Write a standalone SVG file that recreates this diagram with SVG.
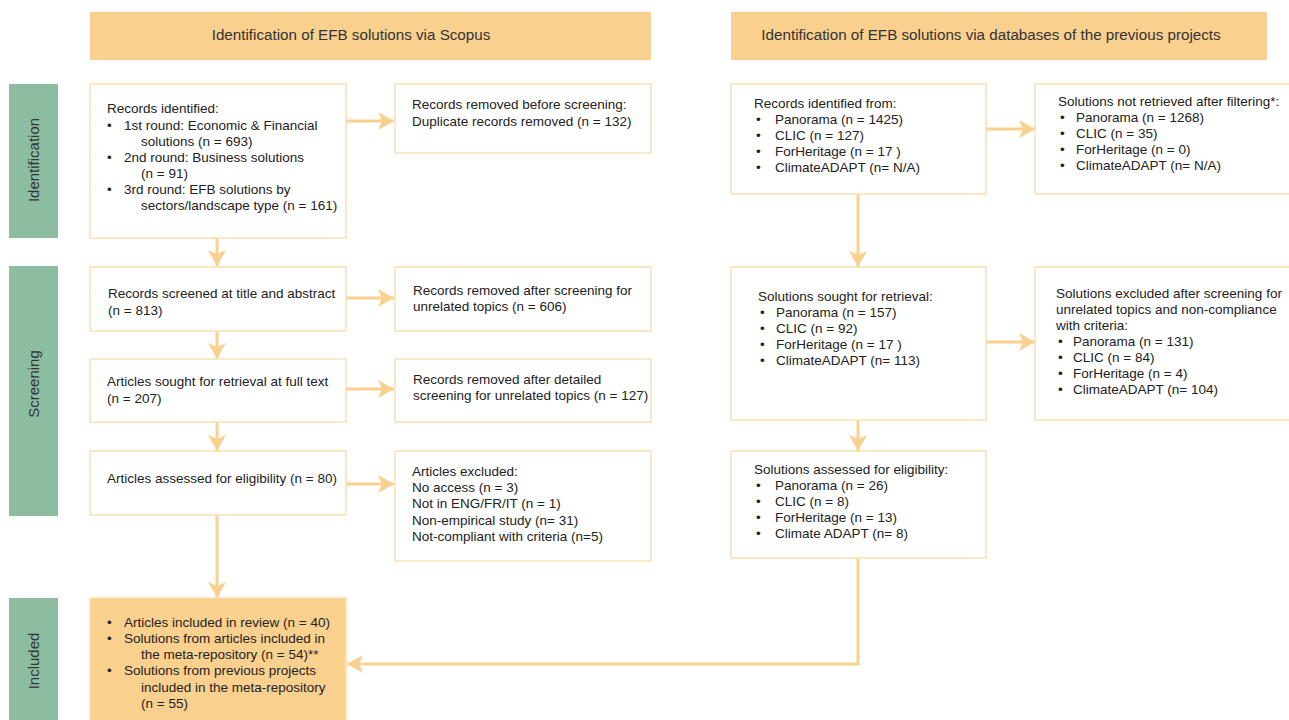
<svg xmlns="http://www.w3.org/2000/svg" width="1289" height="720" viewBox="0 0 1289 720">
<defs>
<style>
text{font-family:"Liberation Sans",Arial,sans-serif;font-size:13.5px;fill:#222}
.hdr{fill:#FAD08F}
.hdrt{font-size:15.2px;fill:#333}
.side{fill:#8CBDA1}
.sidet{font-size:15px;fill:#333}
.box{fill:#fff;stroke:#FCE0B2;stroke-width:1.5}
.inc{fill:#FAD08F;stroke:#FCE0B2;stroke-width:1.5}
.con{fill:none;stroke:#FAD08F;stroke-width:3}
</style>
<marker id="ah" markerUnits="userSpaceOnUse" markerWidth="18" markerHeight="20" viewBox="0 0 18 20" refX="16" refY="10" orient="auto">
<path d="M0,1 L16,10 L0,19 L4,10 Z" fill="#FAD08F"/>
</marker>
</defs>
<rect width="1289" height="720" fill="#fff"/>

<g id="header-scopus"><rect class="hdr" x="90" y="12" width="561" height="48"/><text class="hdrt" x="351" y="40" text-anchor="middle">Identification of EFB solutions via Scopus</text></g>
<g id="header-previous"><rect class="hdr" x="731" y="12" width="536" height="48"/><text class="hdrt" x="991" y="40" text-anchor="middle">Identification of EFB solutions via databases of the previous projects</text></g>

<g id="side-identification"><rect class="side" x="9" y="84" width="49" height="154"/><text class="sidet" transform="translate(39,160) rotate(-90)" text-anchor="middle">Identification</text></g>
<g id="side-screening"><rect class="side" x="9" y="266" width="49" height="250"/><text class="sidet" transform="translate(39,384) rotate(-90)" text-anchor="middle">Screening</text></g>
<g id="side-included"><rect class="side" x="9" y="598" width="49" height="130"/><text class="sidet" transform="translate(39,661) rotate(-90)" text-anchor="middle">Included</text></g>

<g id="connectors">
<line class="con" x1="217" y1="238" x2="217" y2="266" marker-end="url(#ah)"/>
<line class="con" x1="346" y1="121" x2="394" y2="121" marker-end="url(#ah)"/>
<line class="con" x1="346" y1="298" x2="394" y2="298" marker-end="url(#ah)"/>
<line class="con" x1="217" y1="331" x2="217" y2="359" marker-end="url(#ah)"/>
<line class="con" x1="346" y1="389" x2="394" y2="389" marker-end="url(#ah)"/>
<line class="con" x1="217" y1="422" x2="217" y2="451" marker-end="url(#ah)"/>
<line class="con" x1="346" y1="484" x2="394" y2="484" marker-end="url(#ah)"/>
<line class="con" x1="217" y1="515" x2="217" y2="598" marker-end="url(#ah)"/>
<line class="con" x1="858" y1="194" x2="858" y2="267" marker-end="url(#ah)"/>
<line class="con" x1="986" y1="129" x2="1035" y2="129" marker-end="url(#ah)"/>
<line class="con" x1="986" y1="342" x2="1035" y2="342" marker-end="url(#ah)"/>
<line class="con" x1="858" y1="420" x2="858" y2="451" marker-end="url(#ah)"/>
<polyline class="con" points="858,558 858,664 347,664" marker-end="url(#ah)"/>
</g>

<g id="records-identified"><rect class="box" x="90" y="84" width="256" height="154"/>
<text x="107" y="113">Records identified:</text>
<text x="107" y="130">•</text><text x="124" y="130">1st round: Economic &amp; Financial</text>
<text x="141" y="146">solutions (n = 693)</text>
<text x="107" y="162">•</text><text x="124" y="162">2nd round: Business solutions</text>
<text x="141" y="178">(n = 91)</text>
<text x="107" y="194">•</text><text x="124" y="194">3rd round: EFB solutions by</text>
<text x="141" y="210">sectors/landscape type (n = 161)</text>
</g>
<g id="removed-before"><rect class="box" x="395" y="84" width="256" height="69"/>
<text x="412" y="109">Records removed before screening:</text>
<text x="412" y="126">Duplicate records removed  (n = 132)</text>
</g>
<g id="records-screened"><rect class="box" x="90" y="267" width="256" height="64"/>
<text x="108" y="298">Records screened at title and abstract</text>
<text x="108" y="315">(n = 813)</text>
</g>
<g id="removed-after"><rect class="box" x="395" y="267" width="256" height="64"/>
<text x="413" y="295">Records removed after screening for</text>
<text x="413" y="311">unrelated topics (n = 606)</text>
</g>
<g id="articles-sought"><rect class="box" x="90" y="359" width="256" height="63"/>
<text x="107" y="386">Articles sought for retrieval at full text</text>
<text x="107" y="403">(n = 207)</text>
</g>
<g id="removed-detailed"><rect class="box" x="395" y="359" width="256" height="63"/>
<text x="413" y="384">Records removed after detailed</text>
<text x="413" y="400">screening for unrelated topics (n = 127)</text>
</g>
<g id="articles-assessed"><rect class="box" x="90" y="451" width="256" height="64"/>
<text x="107" y="483">Articles assessed for eligibility (n = 80)</text>
</g>
<g id="articles-excluded"><rect class="box" x="395" y="451" width="256" height="110"/>
<text x="412" y="476">Articles excluded:</text>
<text x="412" y="492">No access (n = 3)</text>
<text x="412" y="508">Not in ENG/FR/IT (n = 1)</text>
<text x="412" y="525">Non-empirical study (n= 31)</text>
<text x="412" y="541">Not-compliant with criteria (n=5)</text>
</g>
<g id="included"><rect class="inc" x="90" y="598" width="256" height="130"/>
<text x="107" y="627">•</text><text x="124" y="627">Articles included in review (n = 40)</text>
<text x="107" y="643">•</text><text x="124" y="643">Solutions from articles included in</text>
<text x="141" y="659">the meta-repository (n = 54)**</text>
<text x="107" y="675">•</text><text x="124" y="675">Solutions from previous projects</text>
<text x="141" y="692">included in the meta-repository</text>
<text x="141" y="708">(n = 55)</text>
</g>

<g id="records-identified-from"><rect class="box" x="731" y="84" width="255" height="110"/>
<text x="754" y="108">Records identified from:</text>
<text x="756" y="124">•</text><text x="775" y="124">Panorama (n = 1425)</text>
<text x="756" y="140">•</text><text x="775" y="140">CLIC (n = 127)</text>
<text x="756" y="156">•</text><text x="775" y="156">ForHeritage (n = 17 )</text>
<text x="756" y="172">•</text><text x="775" y="172">ClimateADAPT (n= N/A)</text>
</g>
<g id="not-retrieved"><rect class="box" x="1035" y="84" width="262" height="110"/>
<text x="1058" y="106">Solutions not retrieved after filtering*:</text>
<text x="1060" y="122">•</text><text x="1076" y="122">Panorama (n = 1268)</text>
<text x="1060" y="138">•</text><text x="1076" y="138">CLIC (n = 35)</text>
<text x="1060" y="154">•</text><text x="1076" y="154">ForHeritage (n = 0)</text>
<text x="1060" y="170">•</text><text x="1076" y="170">ClimateADAPT (n= N/A)</text>
</g>
<g id="solutions-sought"><rect class="box" x="731" y="267" width="255" height="153"/>
<text x="758" y="301">Solutions sought for retrieval:</text>
<text x="760" y="317">•</text><text x="776" y="317">Panorama (n = 157)</text>
<text x="760" y="333">•</text><text x="776" y="333">CLIC (n = 92)</text>
<text x="760" y="349">•</text><text x="776" y="349">ForHeritage (n = 17 )</text>
<text x="760" y="365">•</text><text x="776" y="365">ClimateADAPT (n= 113)</text>
</g>
<g id="solutions-excluded"><rect class="box" x="1035" y="267" width="262" height="153"/>
<text x="1056" y="298">Solutions excluded after screening for</text>
<text x="1056" y="314">unrelated topics and non-compliance</text>
<text x="1056" y="330">with criteria:</text>
<text x="1058" y="346">•</text><text x="1073" y="346">Panorama (n = 131)</text>
<text x="1058" y="362">•</text><text x="1073" y="362">CLIC (n = 84)</text>
<text x="1058" y="378">•</text><text x="1073" y="378">ForHeritage (n = 4)</text>
<text x="1058" y="394">•</text><text x="1073" y="394">ClimateADAPT (n= 104)</text>
</g>
<g id="solutions-assessed"><rect class="box" x="731" y="451" width="255" height="107"/>
<text x="754" y="474">Solutions assessed for eligibility:</text>
<text x="756" y="490">•</text><text x="775" y="490">Panorama (n = 26)</text>
<text x="756" y="506">•</text><text x="775" y="506">CLIC (n = 8)</text>
<text x="756" y="522">•</text><text x="775" y="522">ForHeritage (n = 13)</text>
<text x="756" y="538">•</text><text x="775" y="538">Climate ADAPT (n= 8)</text>
</g>
</svg>
